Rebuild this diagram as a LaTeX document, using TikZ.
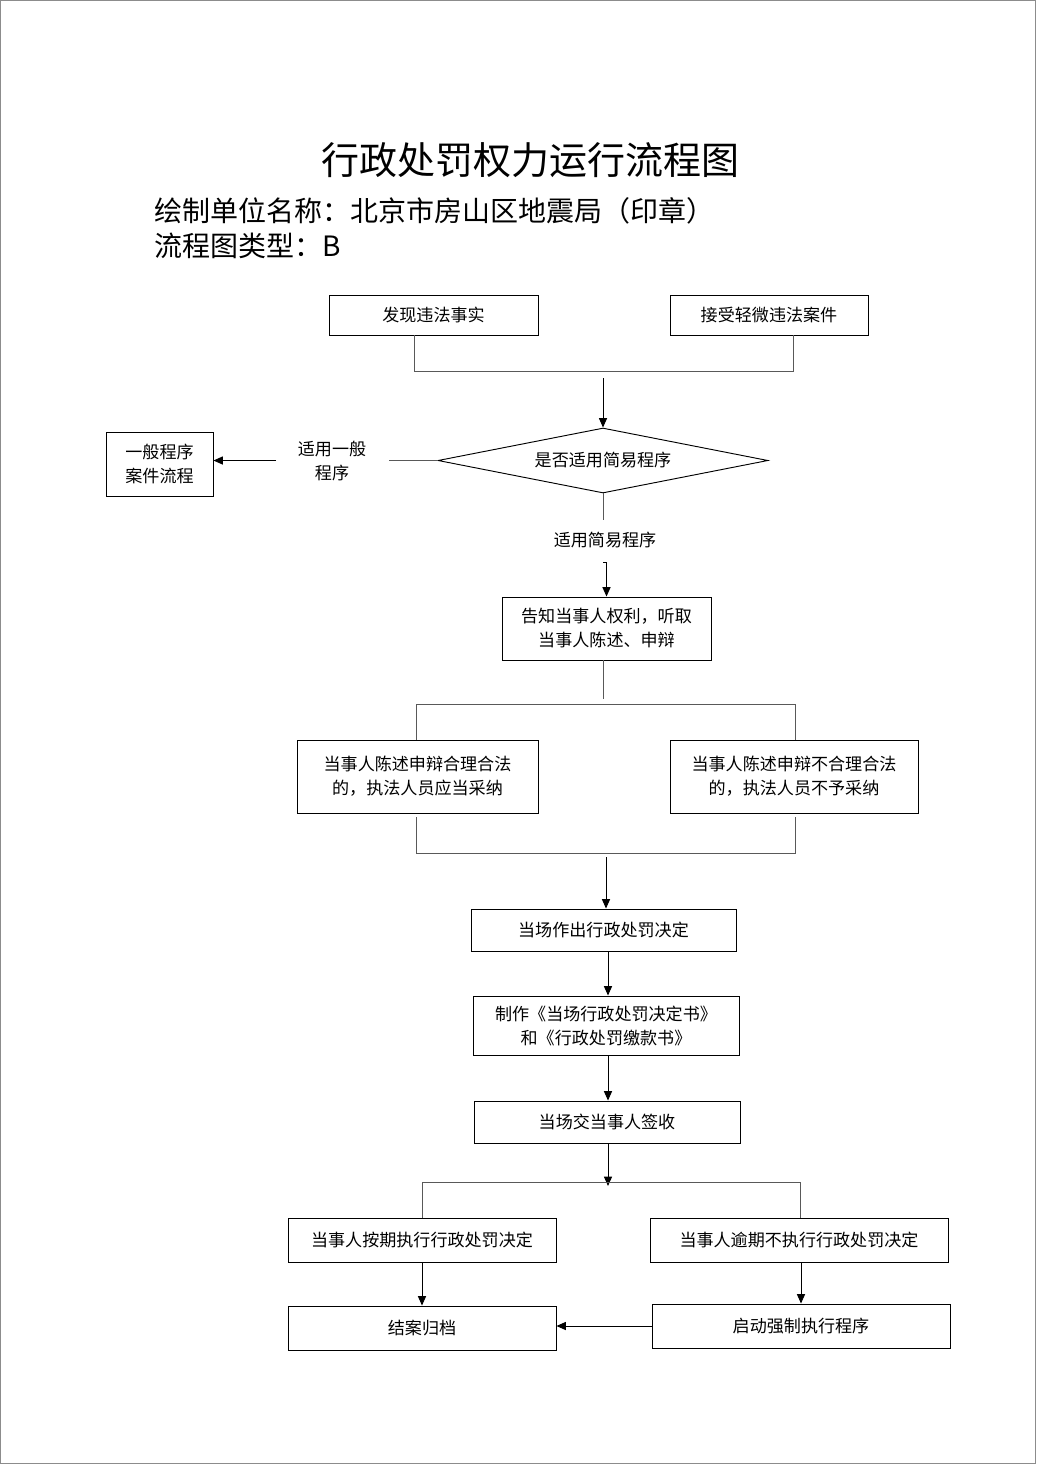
\documentclass[tikz,border=0pt]{standalone}
\usepackage{fontspec}
\setmainfont{Noto Sans CJK SC}
\usetikzlibrary{shapes.geometric,arrows.meta}
\begin{document}
\begin{tikzpicture}[x=0.75pt,y=-0.75pt,
  box/.style 2 args={draw=black,line width=0.7pt,rectangle,minimum width=#1*0.75pt,minimum height=#2*0.75pt,inner sep=0pt,align=center,font=\fontsize{12.8}{18}\selectfont},
  txt/.style={inner sep=0pt,align=center,font=\fontsize{12.8}{18}\selectfont},
  ln/.style={draw=black!65,line width=0.75pt},
  arr/.style={draw=black,line width=0.75pt,-{Triangle[length=7pt,width=6pt]}}]
\useasboundingbox (0,0) rectangle (1036,1464);
\draw[black!45,line width=0.75pt] (0.5,0.5) rectangle (1035.5,1463.5);

% headings
\node[inner sep=0pt,font=\fontsize{28.5}{30}\selectfont] (title) at (530,160) {行政处罚权力运行流程图};
\node[anchor=west,inner sep=0pt,font=\fontsize{21}{24}\selectfont] (sub1) at (154,211) {绘制单位名称：北京市房山区地震局（印章）};
\node[anchor=west,inner sep=0pt,font=\fontsize{21}{24}\selectfont] (sub2) at (154,246) {流程图类型：B};

% boxes
\node[box={209}{40}] (b1) at (433.5,315) {发现违法事实};
\node[box={198}{40}] (b2) at (769,315) {接受轻微违法案件};
\node[draw=black,line width=0.7pt,diamond,aspect=5.08,minimum width=330*0.75pt,minimum height=65*0.75pt,inner sep=0pt,font=\fontsize{12.8}{18}\selectfont] (dia) at (603,460.5) {是否适用简易程序};
\node[box={107}{64}] (gen) at (159.5,464) {一般程序\\案件流程};
\node[txt] (lgen) at (332,461) {适用一般\\程序};
\node[txt] (lsim) at (605,540) {适用简易程序};
\node[box={209}{63}] (tell) at (606.5,628.5) {告知当事人权利，听取\\当事人陈述、申辩};
\node[box={241}{73}] (lb) at (417.5,776.5) {当事人陈述申辩合理合法\\的，执法人员应当采纳};
\node[box={248}{73}] (rb) at (794,776.5) {当事人陈述申辩不合理合法\\的，执法人员不予采纳};
\node[box={265}{42}] (d1) at (603.5,930) {当场作出行政处罚决定};
\node[box={266}{59}] (d2) at (606,1025.5) {制作《当场行政处罚决定书》\\和《行政处罚缴款书》};
\node[box={266}{42}] (d3) at (607,1122) {当场交当事人签收};
\node[box={268}{44}] (e1) at (422,1240) {当事人按期执行行政处罚决定};
\node[box={298}{44}] (e2) at (799,1240) {当事人逾期不执行行政处罚决定};
\node[box={268}{44}] (f1) at (422,1328) {结案归档};
\node[box={298}{44}] (f2) at (801,1326) {启动强制执行程序};

% junction coordinates
\coordinate (m1) at (414,371);
\coordinate (m2) at (793,371);
\coordinate (m3) at (603,378);
\coordinate (g1) at (389,460.5);
\coordinate (g2) at (276,460.5);
\coordinate (s1) at (603,520);
\coordinate (s2) at (603,562);
\coordinate (h0) at (603,699);
\coordinate (h1) at (416,704);
\coordinate (h2) at (795,704);
\coordinate (k1) at (416,853);
\coordinate (k2) at (795,853);
\coordinate (k3) at (606,857);
\coordinate (xa) at (608,0);
\coordinate (p0) at (608,1186);
\coordinate (p1) at (422,1182);
\coordinate (p2) at (800,1182);

% connectors
\draw[ln] (b1.south -| m1) -- (m1) -- (m2) -- (b2.south -| m2);
\draw[arr] (m3) -- (dia.north);
\draw[ln] (dia.west) -- (g1);
\draw[arr] (g2) -- (gen.east |- g2);
\draw[ln] (dia.south) -- (s1);
\draw[arr] (s2) -- (tell.north |- s2) -- (tell.north);
\draw[ln] (tell.south -| h0) -- (h0);
\draw[ln] (lb.north -| h1) -- (h1) -- (h2) -- (rb.north -| h2);
\draw[ln] ([yshift=-3pt]lb.south -| k1) -- (k1) -- (k2) -- ([yshift=-3pt]rb.south -| k2);
\draw[arr] (k3) -- (k3 |- d1.north);
\draw[arr] (d1.south -| xa) -- (d2.north -| xa);
\draw[arr] (d2.south -| xa) -- (d3.north -| xa);
\draw[arr] (d3.south -| xa) -- (p0);
\draw[ln] (e1.north -| p1) -- (p1) -- (p2) -- (e2.north -| p2);
\draw[arr] (e1.south) -- (f1.north);
\draw[arr] (e2.south -| f2.north) -- (f2.north);
\draw[arr] (f2.west) -- (f2.west -| f1.east);
\end{tikzpicture}
\end{document}
